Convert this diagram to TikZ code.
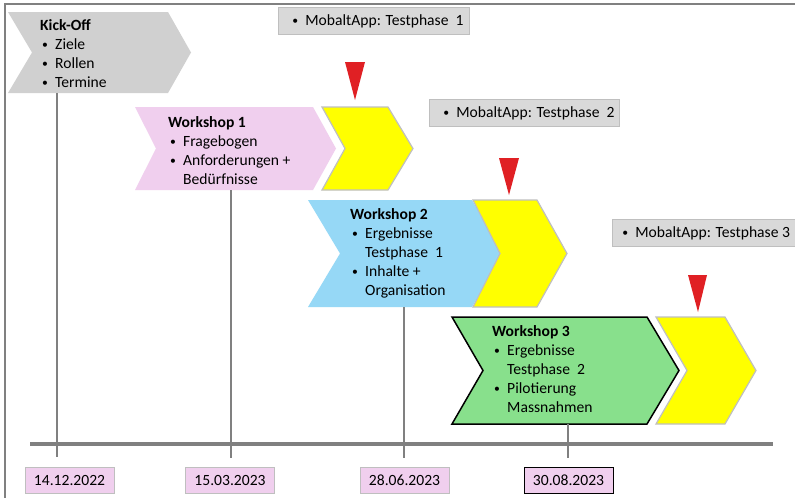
\documentclass[tikz,border=0pt]{standalone}
\usepackage{fontspec}
\setmainfont{Carlito}
\usetikzlibrary{calc}
\definecolor{kogray}{HTML}{D0D0D0}
\definecolor{boxgray}{HTML}{D9D9D9}
\definecolor{edgegray}{HTML}{BFBFBF}
\definecolor{linegray}{HTML}{808080}
\definecolor{wpink}{HTML}{F0CFEE}
\definecolor{wblue}{HTML}{96D8F6}
\definecolor{wgreen}{HTML}{88E08C}
\definecolor{mred}{HTML}{E02024}
\definecolor{myellow}{HTML}{FFFF00}
\newcommand\bl{\makebox[15pt][l]{\hspace{2pt}\raisebox{0.8pt}{\scalebox{0.75}{\textbullet}}}}
% chevron: name, x1, y1, x2, y2, tip, notch, style
\newcommand\chev[8]{%
  \node[inner sep=0pt,outer sep=0pt,minimum width={#4-#2},minimum height={#5-#3}] (#1) at ({(#2+#4)/2},{(#3+#5)/2}) {};
  \path[#8] (#1.north west) -- ([xshift=-#6]#1.north east) -- (#1.east) -- ([xshift=-#6]#1.south east) -- (#1.south west) -- ([xshift=#7]#1.west) -- cycle;}
\begin{document}
\begin{tikzpicture}[x=1pt,y=-1pt,
  every node/.style={font={\fontsize{15.6}{19}\selectfont}},
  txt/.style={anchor=base west,inner sep=0pt},
  mbox/.style={draw=edgegray,fill=boxgray,line width=0.8pt,anchor=north west,minimum height=27pt,inner sep=0pt},
  datebox/.style={draw=edgegray,fill=wpink,line width=0.8pt,minimum width=89pt,minimum height=26pt,inner sep=0pt},
  tick/.style={draw=linegray,line width=2pt},
  yel/.style={fill=myellow,draw=edgegray,line width=1.2pt}]
\useasboundingbox (0,0) rectangle (795,498);
\clip (0,0) rectangle (795,498);
\fill[white] (0,0) rectangle (795,498);
% frame
\coordinate (fa) at (795,4);
\coordinate (fb) at (5,4);
\coordinate (fc) at (5,498);
\draw[linegray,line width=2pt] (fa) -- (fb) -- (fc);
% chevrons
\chev{ko}{8}{12}{191}{93}{23}{24}{fill=kogray}
\chev{w1}{135}{107}{336}{190}{23}{21}{fill=wpink}
\chev{y1}{322}{107}{413}{190}{25}{23}{yel}
\chev{w2}{308}{200}{502}{307}{30}{32}{fill=wblue}
\chev{y2}{473}{200}{567}{307}{30}{27}{yel}
\chev{w3}{452}{317}{679}{424}{32}{31}{fill=wgreen,draw=black,line width=1.5pt}
\chev{y3}{656}{317}{756}{424}{31}{31}{yel}
% timeline
\coordinate (t1) at (57,457);
\coordinate (t2) at (231,458);
\coordinate (t3) at (404,458);
\coordinate (t4) at (568,458);
\draw[tick] (t1 |- ko.south) -- (t1);
\draw[tick] (t2 |- w1.south) -- (t2);
\draw[tick] (t3 |- w2.south) -- (t3);
\draw[tick] (t4 |- w3.south) -- (t4);
\coordinate (tl0) at (30,444);
\coordinate (tl1) at (773,444);
\draw[linegray,line width=4pt] (tl0) -- (tl1);
% red markers
\fill[mred] (345,62) -- (365,62) -- (355,100) -- cycle;
\fill[mred] (499,158) -- (519,158) -- (509,195) -- cycle;
\fill[mred] (688,275) -- (707,275) -- (698,312) -- cycle;
% test phase boxes
\node[mbox,minimum width=191pt] (m1) at (278,7) {\makebox[167pt][l]{\bl MobaltApp: Testphase\ \ 1}};
\node[mbox,minimum width=190pt] (m2) at (429,99) {\makebox[166pt][l]{\bl MobaltApp: Testphase\ \ 2}};
\node[mbox,minimum width=184pt] (m3) at (612,219) {\makebox[184pt][l]{\hspace{8pt}\bl MobaltApp: Testphase 3}};
% chevron texts
\node[txt] (kot) at (40,30) {\begin{tabular}[t]{@{}l@{}l@{}}\multicolumn{2}{@{}l@{}}{\textbf{Kick-Off}}\\ \bl&Ziele\\ \bl&Rollen\\ \bl&Termine\end{tabular}};
\node[txt] (w1t) at (168,127) {\begin{tabular}[t]{@{}l@{}l@{}}\multicolumn{2}{@{}l@{}}{\textbf{Workshop 1}}\\ \bl&Fragebogen\\ \bl&Anforderungen +\\ &Bedürfnisse\end{tabular}};
\node[txt] (w2t) at (350,219) {\begin{tabular}[t]{@{}l@{}l@{}}\multicolumn{2}{@{}l@{}}{\textbf{Workshop 2}}\\ \bl&Ergebnisse\\ &Testphase\ \ 1\\ \bl&Inhalte +\\ &Organisation\end{tabular}};
\node[txt] (w3t) at (492,336) {\begin{tabular}[t]{@{}l@{}l@{}}\multicolumn{2}{@{}l@{}}{\textbf{Workshop 3}}\\ \bl&Ergebnisse\\ &Testphase\ \ 2\\ \bl&Pilotierung\\ &Massnahmen\end{tabular}};
% dates
\node[datebox] (d1) at (69.5,480) {14.12.2022};
\node[datebox] (d2) at (230,480) {15.03.2023};
\node[datebox] (d3) at (404.5,480) {28.06.2023};
\node[datebox,draw=black] (d4) at (568.5,480) {30.08.2023};
\end{tikzpicture}
\end{document}
